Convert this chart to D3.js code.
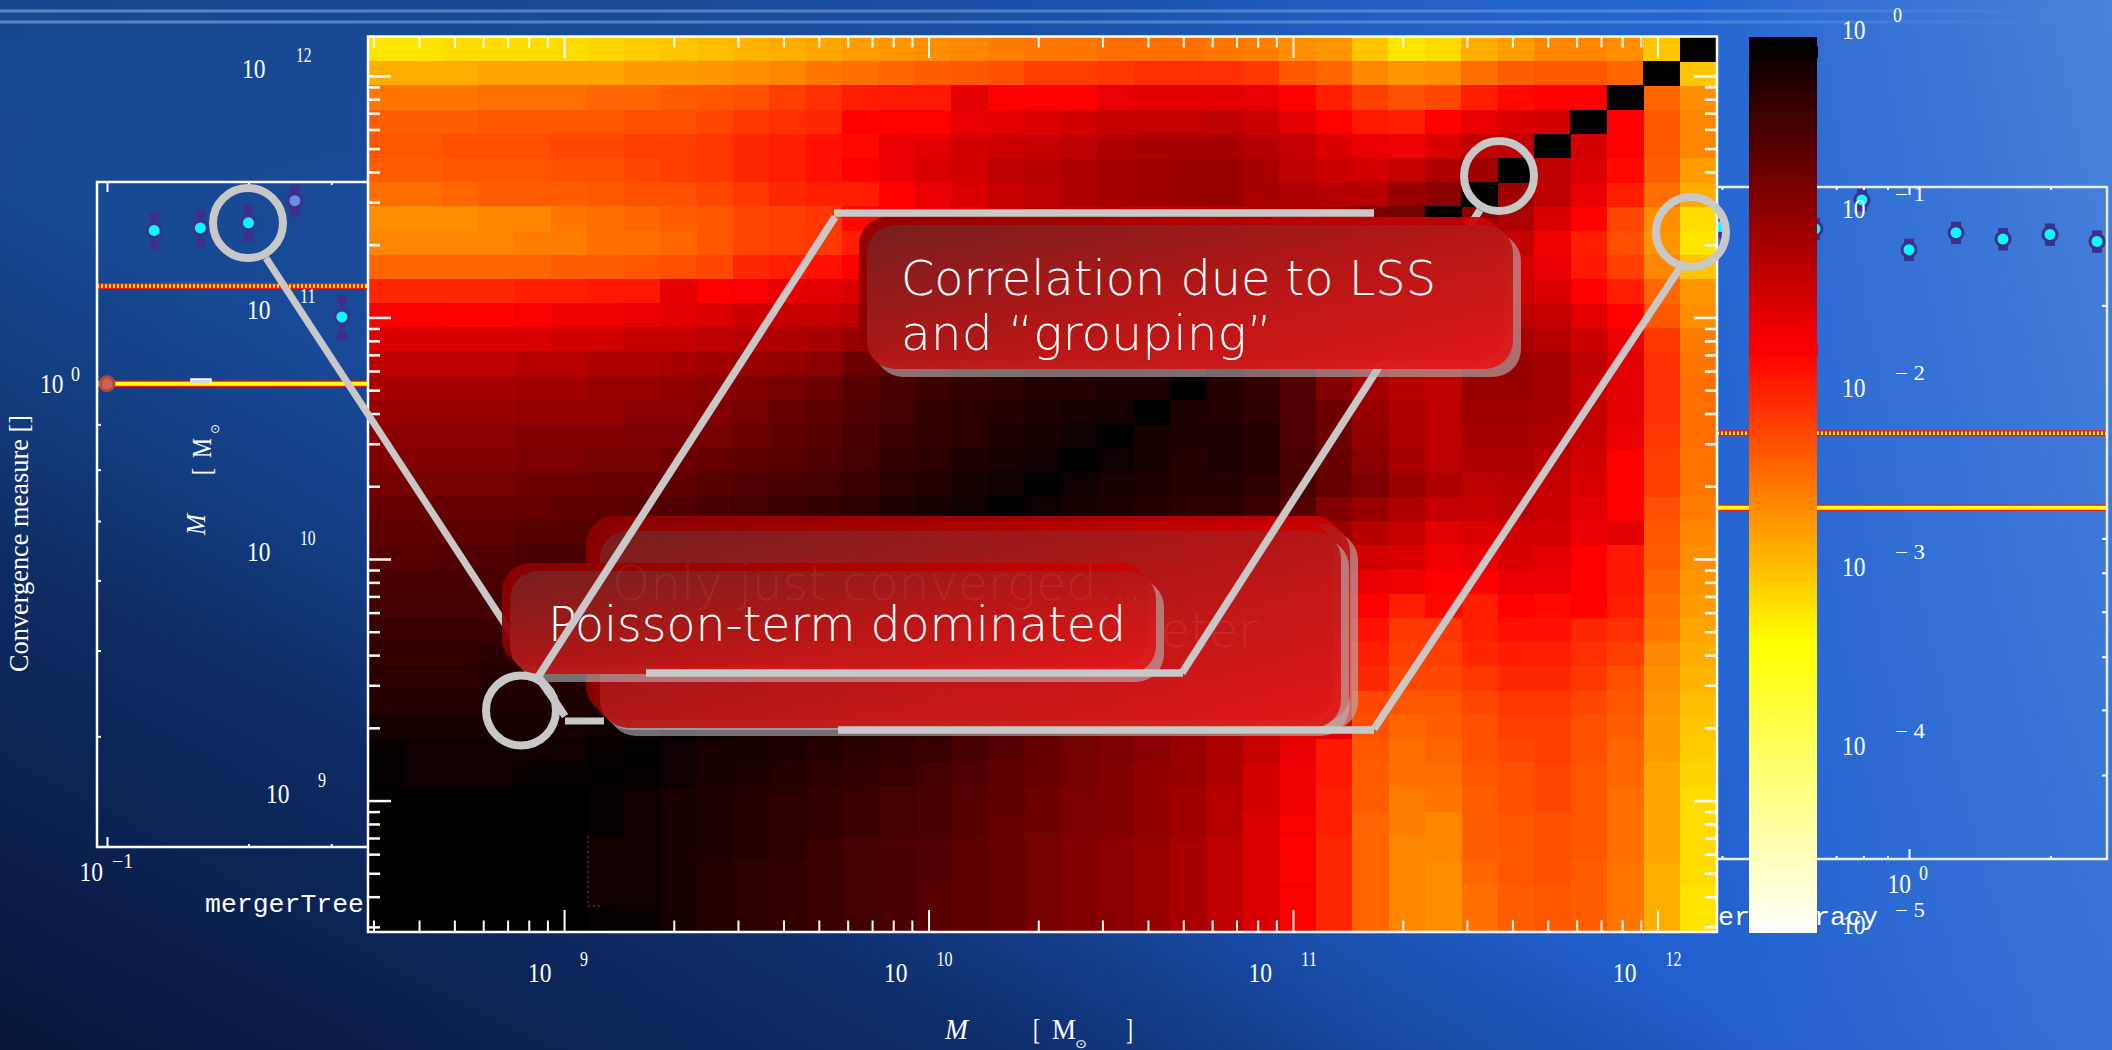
<!DOCTYPE html>
<html>

<head>
  <title>Merger tree convergence</title>
  <script src="https://d3js.org/d3.v7.min.js"></script>
  <style>
    body {
      margin: 0;
      overflow: hidden;
    }

    svg {
      display: block;
    }
  </style>
</head>

<body>
  <svg id="chart"></svg>
  <script>
    // covariance matrix, upper-left triangle only (it is symmetric about the black anti-diagonal)
    // each number is -20*log10(value), so 0 = 10^0 and 100 = 10^-5
    const covTriangle = [
      [64,64,63,63,63,63,62,61,60,59,58,57,56,55,54,53,52,51,50,50,49,49,49,50,51,53,54,60,64,63,57,55,52,52,53,60,0],
      [57,57,57,56,56,56,56,55,55,54,53,52,50,49,48,47,46,45,43,43,42,41,41,41,42,46,48,52,54,53,49,47,46,46,48,0],
      [50,50,50,49,49,49,48,48,47,46,45,43,41,39,38,38,31,35,35,35,32,31,31,31,32,35,39,43,45,44,39,36,35,35,0],
      [47,47,47,46,46,46,46,45,45,44,42,41,40,35,35,35,32,31,30,29,27,27,27,26,28,31,35,38,39,35,32,30,29,0],
      [46,46,45,45,45,44,44,43,43,42,40,39,37,36,32,31,29,28,27,26,24,23,23,23,25,27,30,32,33,30,26,26,0],
      [47,47,46,46,46,45,45,44,43,42,40,39,37,35,32,30,29,26,25,24,23,22,21,21,23,26,28,29,27,24,22,0],
      [49,49,48,47,47,47,46,45,45,44,42,40,39,39,35,32,30,27,26,24,23,22,21,21,23,24,25,25,21,19,0],
      [53,53,53,52,52,50,49,48,47,46,44,43,42,36,35,33,31,27,24,26,26,26,26,25,24,23,22,18,16,0],
      [52,52,52,52,51,51,49,49,48,46,44,43,42,39,33,30,27,24,21,23,24,24,25,24,23,22,22,20,0],
      [48,48,48,48,48,47,47,46,45,44,40,39,37,35,32,29,25,21,17,19,20,21,22,21,20,19,17,0],
      [40,40,40,40,39,39,38,38,31,35,34,32,31,30,27,24,21,18,14,14,15,15,18,17,15,13,0],
      [34,34,35,35,34,33,33,32,31,30,28,27,27,26,21,19,16,12,10,10,11,11,11,10,8,0],
      [30,30,30,30,30,29,29,27,27,26,25,24,23,21,17,14,11,8,6,5,5,6,7,6,0],
      [26,26,26,26,25,25,24,24,23,22,21,20,19,15,13,11,8,6,5,4,4,5,5,0],
      [23,23,23,23,22,22,21,21,20,19,18,16,15,12,10,8,7,6,5,5,4,4,0],
      [21,21,21,21,20,20,20,19,19,18,16,14,13,11,9,7,6,5,4,3,3,0],
      [19,19,19,19,18,18,18,17,17,16,15,13,12,10,8,7,6,4,3,2,0],
      [18,18,18,18,17,17,16,16,15,14,13,12,11,9,7,6,4,3,2,0],
      [16,16,16,16,15,15,14,14,13,12,11,10,9,8,6,5,3,2,0],
      [14,14,14,14,14,13,13,12,11,10,9,8,7,6,4,3,2,0],
      [13,13,13,13,12,12,11,10,9,8,7,6,5,4,3,2,0],
      [12,12,11,11,10,10,9,8,7,6,5,4,3,3,2,0],
      [10,10,10,10,9,9,8,7,6,5,4,3,3,2,0],
      [9,9,9,9,8,8,7,6,5,4,3,3,2,0],
      [8,8,8,8,7,7,6,5,4,3,3,2,0],
      [7,7,7,6,6,6,5,4,3,3,2,0],
      [6,6,6,5,5,5,4,3,3,2,0],
      [5,5,5,4,4,4,3,3,2,0],
      [3,3,3,3,3,3,2,2,0],
      [1,2,2,2,2,2,1,0],
      [1,2,2,2,1,1,0],
      [0,0,0,0,0,0],
      [0,0,0,0,0],
      [0,0,0,0],
      [0,0,0],
      [0,0],
      [0]
    ]

    const massExponents = [9, 10, 11, 12]
    const colorExponents = [0, -1, -2, -3, -4, -5]
    const minorDigits = [2, 3, 4, 5, 6, 7, 8, 9]

    // convergence measure panels behind the matrix
    const leftAccuracy = [0.1, 0.126, 0.158, 0.2, 0.251, 0.316]
    const leftMeasure = [1.0, 1.49, 1.50, 1.52, 1.61, 1.19]
    const leftError = [0, 0.048, 0.048, 0.048, 0.04, 0.059]
    const rightAccuracy = [0.398, 0.631, 0.794, 1.0, 1.259, 1.585, 1.995, 2.512]
    const rightMeasure = [2.62, 2.60, 2.87, 2.42, 2.565, 2.51, 2.55, 2.49]
    const rightError = [0.038, 0.038, 0.038, 0.038, 0.038, 0.038, 0.038, 0.038]
    const solidLevel = 1.0
    const dottedLevel = 1.29

    const svgwidth = 2112
    const svgheight = 1050
    const nBins = covTriangle.length

    const svg = d3.select("#chart")
      .attr("width", svgwidth)
      .attr("height", svgheight)

    const defs = svg.append("defs")
    const serif = "'Liberation Serif', serif"

    function addGradient(id, attrs, stops) {
      const g = defs.append("linearGradient").attr("id", id)
      Object.keys(attrs).forEach(k => g.attr(k, attrs[k]))
      stops.forEach(s => {
        g.append("stop").attr("offset", s[0]).attr("stop-color", s[1]).attr("stop-opacity", s[2] === undefined ? 1 : s[2])
      })
    }

    // background of the slide
    addGradient("bgBase", { x1: 0, x2: 1, y1: 0, y2: 0 }, [
      [0, "#17488e"], [0.3, "#184a96"], [0.5, "#1a50a8"], [0.66, "#2060c4"], [0.8, "#2466d0"], [1, "#4a82da"]
    ])
    addGradient("bgFade", { x1: 0, x2: 0, y1: 0, y2: 1 }, [
      [0, "#1c5ad0", 0], [1, "#1c5ad0", 0.45]
    ])
    addGradient("bgDark", { gradientUnits: "userSpaceOnUse", x1: 0, y1: 1050, x2: 500, y2: 0 }, [
      [0, "#050f2c", 0.9], [0.37, "#050f2c", 0.55], [0.52, "#050f2c", 0.25], [0.67, "#050f2c", 0.02], [0.8, "#050f2c", 0]
    ])
    addGradient("streak", { x1: 0, x2: 1, y1: 0, y2: 0 }, [
      [0, "#7fa6e0", 0.65], [0.8, "#8fb4ec", 0.4], [1, "#8fb4ec", 0]
    ])
    addGradient("boxFace", { x1: 0, y1: 0, x2: 1, y2: 1 }, [
      [0, "#742020"], [0.5, "#b41616"], [1, "#e41818"]
    ])
    addGradient("boxBack", { x1: 0, y1: 0, x2: 1, y2: 0 }, [
      [0, "#8c0000"], [1, "#d00000"]
    ])

    defs.append("pattern").attr("id", "hatch")
      .attr("width", 7).attr("height", 7)
      .attr("patternUnits", "userSpaceOnUse")
      .attr("patternTransform", "rotate(-45)")
      .append("line")
      .attr("x1", 0).attr("x2", 7).attr("y1", 1).attr("y2", 1)
      .attr("stroke", "#fff").attr("stroke-opacity", 0.02)

    svg.append("rect").attr("width", svgwidth).attr("height", svgheight).attr("fill", "url(#bgBase)")
    svg.append("rect").attr("width", svgwidth).attr("height", svgheight).attr("fill", "url(#bgFade)")
    svg.append("rect").attr("width", svgwidth).attr("height", svgheight).attr("fill", "url(#bgDark)")
    svg.selectAll(".streak").data([11, 22]).enter().append("rect")
      .attr("class", "streak")
      .attr("x", 0).attr("y", d => d - 1.5)
      .attr("width", 2070).attr("height", 3)
      .attr("fill", "url(#streak)")

    // helpers
    function addAxis(generator, scale, values, size, width, transform) {
      svg.append("g")
        .attr("transform", transform)
        .call(generator(scale).tickValues(values).tickSize(size).tickFormat(() => ""))
        .call(g => g.select(".domain").remove())
        .call(g => g.selectAll("text").remove())
        .selectAll("line")
        .attr("stroke", "#fff")
        .attr("stroke-width", width)
    }

    function addText(txt, x, y, size, len, opts) {
      opts = opts || {}
      const t = svg.append("text")
        .attr("x", x).attr("y", y)
        .attr("font-family", opts.family || serif)
        .attr("font-size", size)
        .attr("fill", opts.fill || "#fff")
        .attr("text-anchor", opts.anchor || "start")
        .text(txt)
      if (opts.italic) t.attr("font-style", "italic")
      if (opts.weight) t.attr("font-weight", opts.weight)
      if (opts.opacity) t.attr("opacity", opts.opacity)
      if (opts.rotate) t.attr("transform", `rotate(-90 ${x} ${y})`)
      if (len) t.attr("textLength", len).attr("lengthAdjust", "spacingAndGlyphs")
      return t
    }

    // "10" with a raised exponent
    function addPower(tenX, tenY, supX, supY, sup, supLen) {
      addText("10", tenX, tenY, 27, 23.5)
      addText(sup, supX, supY, 20, supLen)
    }

    // left convergence panel
    const leftX = d3.scaleLog().domain([0.1, 1]).range([107, 577])
    const leftY = d3.scaleLog().domain([0.3, 1.69]).range([847, 182])
    const rightX = d3.scaleLog().domain([0.1, 1]).range([1439, 1909])
    const rightY = d3.scaleLog().domain([0.3, 3]).range([859, 187])

    function drawLevels(y, x0, x1) {
      svg.append("line").attr("x1", x0).attr("x2", x1).attr("y1", y(solidLevel)).attr("y2", y(solidLevel))
        .attr("stroke", "#f01818").attr("stroke-width", 6.5)
      svg.append("line").attr("x1", x0).attr("x2", x1).attr("y1", y(solidLevel)).attr("y2", y(solidLevel))
        .attr("stroke", "#ffff00").attr("stroke-width", 4)
      svg.append("line").attr("x1", x0).attr("x2", x1).attr("y1", y(dottedLevel)).attr("y2", y(dottedLevel))
        .attr("stroke", "#f01818").attr("stroke-width", 6)
      svg.append("line").attr("x1", x0).attr("x2", x1).attr("y1", y(dottedLevel)).attr("y2", y(dottedLevel))
        .attr("stroke", "#ffff00").attr("stroke-width", 3.5).attr("stroke-dasharray", "2,2")
    }

    function drawPoints(xs, ys, errs, x, y, capH) {
      const pts = xs.map((d, i) => ({ x: d, y: ys[i], e: errs[i], i: i }))
      const g = svg.append("g").selectAll("g").data(pts).enter().append("g")
      const bars = g.filter(d => d.e > 0)
      bars.append("rect")
        .attr("x", d => x(d.x) - 2.5).attr("width", 5)
        .attr("y", d => y(d.y * (1 + d.e)))
        .attr("height", d => y(d.y * (1 - d.e)) - y(d.y * (1 + d.e)))
        .attr("fill", "#3f2e8c")
      bars.append("rect")
        .attr("x", d => x(d.x) - 5).attr("width", 10).attr("height", capH)
        .attr("y", d => y(d.y * (1 + d.e)))
        .attr("fill", "#3f2e8c")
      bars.append("rect")
        .attr("x", d => x(d.x) - 5).attr("width", 10).attr("height", capH)
        .attr("y", d => y(d.y * (1 - d.e)) - capH)
        .attr("fill", "#3f2e8c")
      g.append("circle")
        .attr("cx", d => x(d.x)).attr("cy", d => y(d.y)).attr("r", 8.5)
        .attr("fill", d => d.y === solidLevel ? "#a85030" : "#3f2e8c")
      g.append("circle")
        .attr("cx", d => x(d.x)).attr("cy", d => y(d.y)).attr("r", 5.5)
        .attr("fill", d => d.y === solidLevel ? "#d06060" : (d.y > 1.6 && d.y < 1.7 ? "#6a8ce8" : "#00ffff"))
    }

    drawLevels(leftY, 97, 368)
    drawLevels(rightY, 1717, 2107)
    drawPoints(leftAccuracy, leftMeasure, leftError, leftX, leftY, 8)
    drawPoints(rightAccuracy, rightMeasure, rightError, rightX, rightY, 5)

    svg.append("path")
      .attr("d", "M368,182L97,182L97,847L368,847")
      .attr("fill", "none").attr("stroke", "#fff").attr("stroke-width", 2.5)
    svg.append("path")
      .attr("d", "M1717,187L2107,187L2107,859L1717,859")
      .attr("fill", "none").attr("stroke", "#e8edf8").attr("stroke-width", 2.5)
    svg.append("path")
      .attr("d", "M191,383L191,379L211,379L211,383")
      .attr("fill", "#d8d8d8").attr("stroke", "#fff").attr("stroke-width", 1.5)

    addAxis(d3.axisBottom, leftX, [0.1], -10, 2, "translate(0,847)")
    addAxis(d3.axisBottom, leftX, [0.2, 0.3], -3, 2, "translate(0,847)")
    addAxis(d3.axisTop, leftX, [0.1], -10, 2, "translate(0,182)")
    addAxis(d3.axisTop, leftX, [0.2, 0.3], -3, 2, "translate(0,182)")
    addAxis(d3.axisLeft, leftY, [0.4, 0.5, 0.6, 0.7, 0.8, 0.9], -4, 2, "translate(97,0)")
    addAxis(d3.axisBottom, rightX, [0.4, 0.7, 0.8, 0.9, 2], -3, 2, "translate(0,859)")
    addAxis(d3.axisBottom, rightX, [1], -10, 2, "translate(0,859)")
    addAxis(d3.axisTop, rightX, [0.4, 0.7, 0.8, 0.9, 2], -3, 2, "translate(0,187)")
    addAxis(d3.axisTop, rightX, [1], -8, 2, "translate(0,187)")
    addAxis(d3.axisRight, rightY, [0.4, 0.5, 0.6, 0.7, 0.8, 0.9, 2], -5, 2, "translate(2107,0)")

    addPower(40, 393, 71, 381, "0", 9)
    addPower(79.5, 881, 112, 868, "\u22121", 21)
    addPower(1887.5, 893, 1919, 880, "0", 9)
    addText("mergerTree", 205, 912, 26, 159, { family: "'Liberation Mono', monospace" })
    addText("erAccuracy", 1718, 925, 26, 160, { family: "'Liberation Mono', monospace" })
    addText("Convergence measure []", 28, 672, 27, 257, { rotate: true })

    // matrix
    const valueOf = level => Math.pow(10, -level / 20)
    const heat = d3.scaleLog()
      .domain([1, valueOf(35), valueOf(67.4), 1e-5])
      .range(["#000000", "#ff0000", "#ffff00", "#ffffff"])
      .clamp(true)

    const cells = []
    covTriangle.forEach((row, r) => {
      row.forEach((level, c) => {
        cells.push({ r: r, c: c, level: level })
        if (c !== nBins - 1 - r) cells.push({ r: nBins - 1 - c, c: nBins - 1 - r, level: level })
      })
    })

    const colBand = d3.scaleBand().domain(d3.range(nBins)).range([369, 1716])
    const rowBand = d3.scaleBand().domain(d3.range(nBins)).range([37, 932])

    svg.append("g")
      .attr("shape-rendering", "crispEdges")
      .selectAll("rect")
      .data(cells)
      .enter()
      .append("rect")
      .attr("x", d => colBand(d.c))
      .attr("y", d => rowBand(d.r))
      .attr("width", colBand.bandwidth() + 0.5)
      .attr("height", rowBand.bandwidth() + 0.5)
      .attr("fill", d => heat(valueOf(d.level)))

    // thin leftovers of an older frame showing through the dark corner
    svg.append("path")
      .attr("d", "M588,836L588,906L600,906")
      .attr("fill", "none").attr("stroke", "#e8e8e8").attr("stroke-opacity", 0.35)
      .attr("stroke-width", 1).attr("stroke-dasharray", "2,3")

    const massX = d3.scaleLog().domain([Math.pow(10, 8.462), Math.pow(10, 12.162)]).range([368, 1716.5])
    const massY = d3.scaleLog().domain([Math.pow(10, 8.46), Math.pow(10, 12.165)]).range([931, 36])
    const massMajor = massExponents.map(e => Math.pow(10, e))
    const massMinor = [3e8, 4e8, 5e8, 6e8, 7e8, 8e8, 9e8]
    massExponents.slice(0, 3).forEach(e => minorDigits.forEach(m => massMinor.push(m * Math.pow(10, e))))

    addAxis(d3.axisBottom, massX, massMinor, -10.5, 2, "translate(0,931)")
    addAxis(d3.axisBottom, massX, massMajor, -21, 2, "translate(0,931)")
    addAxis(d3.axisTop, massX, massMinor, -10.5, 2, "translate(0,37)")
    addAxis(d3.axisTop, massX, massMajor, -21, 2, "translate(0,37)")
    addAxis(d3.axisLeft, massY, massMinor, -11, 2.5, "translate(369,0)")
    addAxis(d3.axisLeft, massY, massMajor, -22, 2.5, "translate(369,0)")
    addAxis(d3.axisRight, massY, massMinor, -11, 2.5, "translate(1716,0)")
    addAxis(d3.axisRight, massY, massMajor, -22, 2.5, "translate(1716,0)")

    svg.append("rect")
      .attr("x", 368).attr("y", 36.5)
      .attr("width", 1349).attr("height", 895.5)
      .attr("fill", "none").attr("stroke", "#fff").attr("stroke-width", 2.5)

    massExponents.forEach(e => {
      const px = massX(Math.pow(10, e))
      const py = massY(Math.pow(10, e))
      const one = String(e).length === 1
      addPower(px - (one ? 36 : 44.5), 982, px + (one ? 16 : 8), 966, String(e), one ? 8 : 16)
      addPower(one ? 266 : (e === 12 ? 242 : 247), py + 2, one ? 318 : (e === 12 ? 296 : 300), py - 14, String(e), one ? 8 : 15.5)
    })

    // axis titles
    addText("M", 945, 1038.5, 29, 23, { italic: true })
    addText("[", 1033, 1038.5, 29, 7)
    addText("M", 1052, 1038.5, 29, 24)
    addText("\u2299", 1075, 1048, 12, 12, { family: "'DejaVu Sans', sans-serif" })
    addText("]", 1126, 1038.5, 29, 7)
    addText("M", 205, 535, 27, 21, { italic: true, rotate: true })
    addText("[", 211, 475, 27, 7, { rotate: true })
    addText("M", 211, 458, 27, 20, { rotate: true })
    addText("\u2299", 219, 434, 12, 10, { rotate: true, family: "'DejaVu Sans', sans-serif" })

    // colour bar
    const barY = d3.scaleLog().domain([1e-5, 1]).range([932, 37])
    const barSteps = d3.range(0, 300).map(i => Math.pow(10, -5 * i / 300))
    svg.append("g")
      .attr("shape-rendering", "crispEdges")
      .selectAll("rect")
      .data(barSteps)
      .enter()
      .append("rect")
      .attr("x", 1749).attr("width", 68)
      .attr("y", d => barY(d))
      .attr("height", 3.5)
      .attr("fill", d => heat(d))
    svg.append("rect").attr("x", 1749).attr("y", 37).attr("width", 68).attr("height", 21).attr("fill", "#000")
    svg.append("rect").attr("x", 1749).attr("y", 46).attr("width", 69).attr("height", 12).attr("fill", "#060000")
    svg.append("rect").attr("x", 1749).attr("y", 345).attr("width", 69).attr("height", 10).attr("fill", "#f60000")

    colorExponents.forEach(e => {
      const py = barY(Math.pow(10, e))
      const sup = e === 0 ? "0" : "\u2212 " + (-e)
      addPower(1842, py + 2, e === 0 ? 1893 : 1895, py - 15, sup, e === 0 ? 9 : 30)
    })

    // annotations
    const lineGrey = "#c8c8c8"

    function addSegments(list, width) {
      svg.append("g").selectAll("line").data(list).enter().append("line")
        .attr("x1", d => d[0]).attr("y1", d => d[1])
        .attr("x2", d => d[2]).attr("y2", d => d[3])
        .attr("stroke", lineGrey).attr("stroke-width", width)
    }

    function addBox(x0, y0, x1, y1) {
      svg.append("rect").attr("x", x0 + 8).attr("y", y0 + 8)
        .attr("width", x1 - x0).attr("height", y1 - y0)
        .attr("rx", 28).attr("fill", "#b8b8b8").attr("fill-opacity", 0.6)
      svg.append("rect").attr("x", x0 - 8).attr("y", y0 - 8)
        .attr("width", x1 - x0).attr("height", y1 - y0)
        .attr("rx", 28).attr("fill", "url(#boxBack)").attr("fill-opacity", 0.92)
      svg.append("rect").attr("x", x0).attr("y", y0)
        .attr("width", x1 - x0).attr("height", y1 - y0)
        .attr("rx", 28).attr("fill", "url(#boxFace)").attr("fill-opacity", 0.95)
      svg.append("rect").attr("x", x0).attr("y", y0)
        .attr("width", x1 - x0).attr("height", y1 - y0)
        .attr("rx", 28).attr("fill", "url(#hatch)")
    }

    const calloutFont = { family: "'DejaVu Sans', sans-serif", weight: 200 }

    addSegments([[266, 258, 565, 716], [565, 721, 604, 721]], 7)
    addBox(594, 524, 1350, 722)
    addBox(600, 531, 1341, 728)
    addText("parameter", 1258, 647, 48, null, { ...calloutFont, anchor: "end", opacity: 0.07 })
    addSegments([[838, 730, 1374, 730], [1374, 729, 1684, 262]], 7.5)
    addBox(510, 571, 1156, 674)
    addText("Only just converged...", 612, 600, 48, 531, { ...calloutFont, opacity: 0.06 })
    addText("Poisson-term dominated", 548, 641, 48, 578, calloutFont)
    addSegments([[538, 678, 565, 716]], 7)
    addSegments([[538, 677, 835, 217], [834, 213, 1374, 213], [646, 673, 1183, 673], [1182, 673, 1480, 210]], 7.5)
    addBox(867, 225, 1513, 369)
    addText("Correlation due to LSS", 901, 295, 48, 535, calloutFont)
    addText("and \u201cgrouping\u201d", 901, 350, 48, 371, calloutFont)

    svg.selectAll(".ring")
      .data([[248, 223], [1499, 176], [1691, 232], [521, 710.5]])
      .enter()
      .append("circle")
      .attr("class", "ring")
      .attr("cx", d => d[0]).attr("cy", d => d[1])
      .attr("r", 35)
      .attr("fill", "none")
      .attr("stroke", lineGrey)
      .attr("stroke-width", 8)
  </script>
</body>

</html>
